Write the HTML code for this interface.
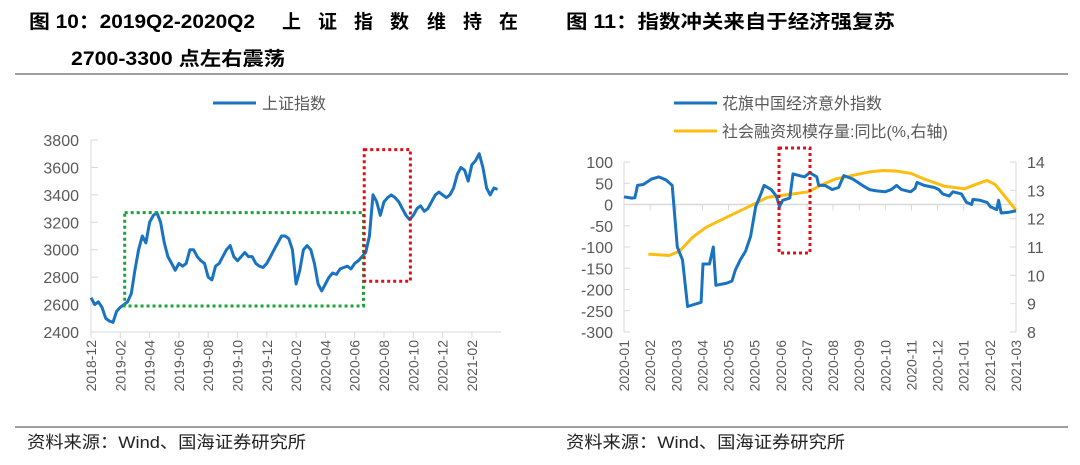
<!DOCTYPE html>
<html><head><meta charset="utf-8"><style>
body{margin:0;background:#fff;width:1080px;height:465px;overflow:hidden;font-family:"Liberation Sans","Noto Sans CJK SC",sans-serif}
svg{position:absolute;left:0;top:0}
text{white-space:pre}
</style></head><body>
<svg id="s" width="1080" height="465" font-family="Liberation Sans, Noto Sans CJK SC, sans-serif">
<text y="28" font-size="19" font-weight="bold" fill="#000"><tspan x="29" textLength="226" lengthAdjust="spacingAndGlyphs">图 10：2019Q2-2020Q2</tspan><tspan x="282">上</tspan><tspan x="318">证</tspan><tspan x="354">指</tspan><tspan x="390">数</tspan><tspan x="427">维</tspan><tspan x="463">持</tspan><tspan x="499">在</tspan></text>
<text x="71" y="65" font-size="19" font-weight="bold" fill="#000" textLength="214" lengthAdjust="spacingAndGlyphs">2700-3300 点左右震荡</text>
<text x="566" y="28" font-size="19" font-weight="bold" fill="#000" textLength="329" lengthAdjust="spacingAndGlyphs">图 11：指数冲关来自于经济强复苏</text>
<line x1="15" y1="74" x2="1068" y2="74" stroke="#666" stroke-width="1.2"/>
<line x1="15" y1="427" x2="1068" y2="427" stroke="#666" stroke-width="1.2"/>
<text x="27" y="448" font-size="17" fill="#222" textLength="279" lengthAdjust="spacingAndGlyphs">资料来源：Wind、国海证券研究所</text>
<text x="566" y="448" font-size="17" fill="#222" textLength="279" lengthAdjust="spacingAndGlyphs">资料来源：Wind、国海证券研究所</text>
<g id="L"></g><g id="R"></g>
</svg>
<script>
// Left chart data
const shValues=[2650,2600,2620,2580,2500,2480,2470,2550,2580,2600,2620,2680,2850,3000,3100,3050,3200,3250,3270,3200,3050,2950,2900,2850,2900,2880,2900,3000,3000,2950,2920,2900,2800,2780,2880,2900,2950,3000,3030,2950,2920,2950,2980,2950,2950,2900,2880,2870,2900,2950,3000,3050,3100,3100,3080,3000,2750,2850,3000,3030,3000,2900,2750,2700,2750,2800,2830,2820,2860,2870,2880,2860,2900,2920,2950,2980,3100,3400,3350,3250,3350,3380,3400,3380,3350,3300,3250,3220,3250,3300,3320,3280,3300,3350,3400,3420,3400,3380,3400,3450,3550,3600,3580,3500,3620,3650,3700,3600,3450,3400,3450,3440];
const leftYTicks=[2400,2600,2800,3000,3200,3400,3600,3800];
const leftXLabels=["2018-12","2019-02","2019-04","2019-06","2019-08","2019-10","2019-12","2020-02","2020-04","2020-06","2020-08","2020-10","2020-12","2021-02"];
// Right chart data
const citiWeeks=[0,1.2,1.7,2.1,3.0,4.3,5.4,6.5,7.5,8.3,9.1,9.9,12.0,12.3,13.3,13.9,14.3,16.0,16.8,17.3,18.1,18.9,19.7,20.5,21.3,21.8,22.9,23.7,24.2,24.7,25.8,26.3,28.1,28.9,30.0,30.3,31.3,32.4,33.4,34.2,35.6,37.1,38.2,39.3,40.6,41.6,42.4,43.2,44.6,45.3,45.6,46.7,48.3,49.0,49.6,50.6,51.2,52.5,53.3,54.1,54.3,55.4,56.5,57.0,58.0,58.3,58.7,59.9,61];
const citiValues=[18,15,16,45,47,60,65,58,45,-100,-130,-240,-230,-140,-140,-100,-190,-185,-180,-155,-130,-110,-75,-5,25,45,35,20,-5,10,15,72,65,75,65,45,45,35,40,68,60,45,35,32,30,35,45,35,30,38,52,45,40,35,25,20,30,25,5,0,12,10,5,-5,-12,10,-20,-18,-15];
const tsfWeeks=[3.8,7.0,8.6,10.7,12.8,16.0,19.2,22.3,25.5,28.7,30.8,32.9,36.1,38.2,40.3,42.4,44.6,46.7,49.8,53.0,54.6,56.5,57.8,59.4,61];
const tsfValues=[10.75,10.7,10.85,11.35,11.7,12.05,12.4,12.75,12.85,12.95,13.2,13.4,13.55,13.65,13.7,13.68,13.6,13.4,13.15,13.05,13.2,13.35,13.2,12.75,12.3];
const rightLTicks=[100,50,0,-50,-100,-150,-200,-250,-300];
const rightRTicks=[14,13,12,11,10,9,8];
const rightXLabels=["2020-01","2020-02","2020-03","2020-04","2020-05","2020-05","2020-06","2020-07","2020-08","2020-09","2020-10","2020-11","2020-12","2021-01","2021-02","2021-03"];

const NS="http://www.w3.org/2000/svg";
function mk(p,tag,a,txt){const e=document.createElementNS(NS,tag);for(const k in a)e.setAttribute(k,a[k]);if(txt!==undefined)e.textContent=txt;p.appendChild(e);return e;}
const G="#d9d9d9",TC="#595959";

// ---- Left
(function(){
const g=document.getElementById('L');
const x0=91,x1=501,yTop=140,yBot=332;
const ly=v=>yBot-(v-2400)/1400*(yBot-yTop);
const mw=14.65;
const lx=m=>x0+m*mw;
let e=mk(g,'line',{x1:x0,y1:yTop,x2:x0,y2:yBot,stroke:G});

e=mk(g,'line',{x1:x0,y1:yBot,x2:x1,y2:yBot,stroke:G});

leftYTicks.forEach(v=>{
 mk(g,'line',{x1:x0,y1:ly(v),x2:x0+7,y2:ly(v),stroke:G});
 const t=mk(g,'text',{x:79,y:ly(v)+6,'font-size':16,fill:TC,'text-anchor':'end'},v);
 
});
leftXLabels.forEach((s,i)=>{
 const x=lx(i*2);
 mk(g,'line',{x1:x,y1:yBot,x2:x,y2:yBot+6,stroke:G});
 const t=mk(g,'text',{x:0,y:0,'font-size':14,fill:TC,'text-anchor':'end',transform:`translate(${x+5},340) rotate(-90)`},s);
 
});
const pts=shValues.map((v,i)=>lx(i/4).toFixed(1)+','+ly(v).toFixed(1)).join(' ');
e=mk(g,'polyline',{points:pts,fill:'none',stroke:'#1a73c1','stroke-width':3,'stroke-linejoin':'round'});

e=mk(g,'rect',{x:lx(2.3),y:ly(3270),width:lx(18.6)-lx(2.3),height:ly(2590)-ly(3270),fill:'none',stroke:'#1aa33a','stroke-width':3,'stroke-dasharray':'3,3'});

e=mk(g,'rect',{x:lx(18.65),y:ly(3730),width:lx(21.8)-lx(18.65),height:ly(2770)-ly(3730),fill:'none',stroke:'#e0101a','stroke-width':3,'stroke-dasharray':'3,3'});

e=mk(g,'line',{x1:213,y1:103,x2:256,y2:103,stroke:'#1a73c1','stroke-width':3});

e=mk(g,'text',{x:262,y:109,'font-size':16,fill:TC},'上证指数');

})();

// ---- Right
(function(){
const g=document.getElementById('R');
const x0=624,x1=1016,yTop=162,yBot=332;
const yl=v=>yBot-(v+300)/400*(yBot-yTop);
const yr=v=>yBot-(v-8)/6*(yBot-yTop);
const xw=w=>x0+w/61*(x1-x0);
let e=mk(g,'line',{x1:x0,y1:yTop,x2:x0,y2:yBot,stroke:G});

e=mk(g,'line',{x1:x1,y1:yTop,x2:x1,y2:yBot,stroke:G});

e=mk(g,'line',{x1:x0,y1:yl(0),x2:x1,y2:yl(0),stroke:G,'stroke-width':1.5});

rightLTicks.forEach(v=>{
 mk(g,'line',{x1:x0,y1:yl(v),x2:x0+6,y2:yl(v),stroke:G});
 const t=mk(g,'text',{x:613,y:yl(v)+6,'font-size':16,fill:TC,'text-anchor':'end'},v);
 
});
rightRTicks.forEach(v=>{
 mk(g,'line',{x1:x1-6,y1:yr(v),x2:x1,y2:yr(v),stroke:G});
 const t=mk(g,'text',{x:1027,y:yr(v)+6,'font-size':16,fill:TC},v);
 
});
const step=(x1-x0)/(rightXLabels.length-1);
rightXLabels.forEach((s,i)=>{
 const x=x0+i*step;
 mk(g,'line',{x1:x,y1:yl(0),x2:x,y2:yl(0)+6,stroke:G});
 const t=mk(g,'text',{x:0,y:0,'font-size':14,fill:TC,'text-anchor':'end',transform:`translate(${x+5},340) rotate(-90)`},s);
 
});
let pts=tsfWeeks.map((w,i)=>xw(w).toFixed(1)+','+yr(tsfValues[i]).toFixed(1)).join(' ');
e=mk(g,'polyline',{points:pts,fill:'none',stroke:'#fdbd10','stroke-width':3,'stroke-linejoin':'round'});

pts=citiWeeks.map((w,i)=>xw(w).toFixed(1)+','+yl(citiValues[i]).toFixed(1)).join(' ');
e=mk(g,'polyline',{points:pts,fill:'none',stroke:'#1a73c1','stroke-width':3,'stroke-linejoin':'round'});

e=mk(g,'rect',{x:779,y:148,width:31,height:105,fill:'none',stroke:'#e0101a','stroke-width':3,'stroke-dasharray':'3,3'});

e=mk(g,'line',{x1:674,y1:103,x2:717,y2:103,stroke:'#1a73c1','stroke-width':3});

e=mk(g,'text',{x:722,y:109,'font-size':16,fill:TC},'花旗中国经济意外指数');

e=mk(g,'line',{x1:674,y1:131,x2:717,y2:131,stroke:'#fdbd10','stroke-width':3});

e=mk(g,'text',{x:722,y:137,'font-size':16,fill:TC},'社会融资规模存量:同比(%,右轴)');

})();
</script>
</body></html>
